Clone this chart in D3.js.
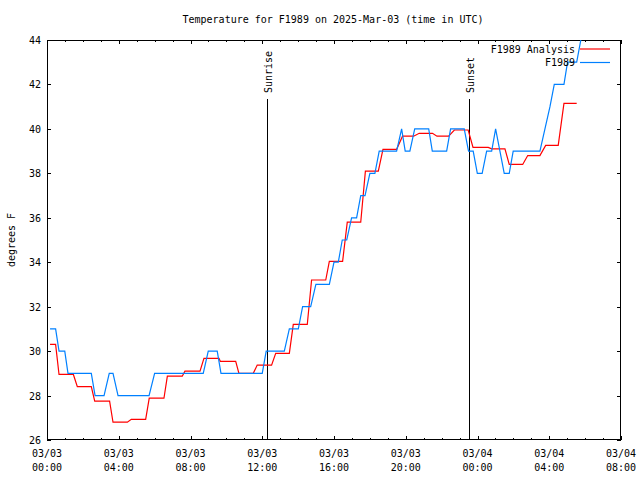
<!DOCTYPE html>
<html>
<head>
<meta charset="utf-8">
<script src="https://cdn.jsdelivr.net/npm/d3@7"></script>
<style>
  body { margin: 0; background: #fff; }
  svg { display: block; }
  text { font-family: "DejaVu Sans Mono", "Liberation Mono", monospace; font-size: 10px; fill: #000; }
</style>
</head>
<body>
<svg id="chart" width="640" height="480"></svg>
<script>
// ---- data (hours after 2025-03-03 00:00 UTC, degrees F) ----
const title = "Temperature for F1989 on 2025-Mar-03 (time in UTC)";
const yLabel = "degrees F";
const seriesNames = ["F1989 Analysis", "F1989"];
const analysisHours = [0.17,0.48,0.67,1.47,1.69,2.47,2.66,3.49,3.68,4.48,4.70,5.50,5.70,6.52,6.71,7.54,7.69,8.53,8.75,9.59,9.66,10.52,10.70,11.50,11.72,12.52,12.75,13.51,13.73,14.51,14.75,15.54,15.74,16.48,16.74,17.49,17.75,18.47,18.73,19.49,19.82,20.44,20.75,21.49,21.74,22.39,22.71,23.48,23.75,24.60,24.79,25.53,25.77,26.52,26.80,27.48,27.80,28.50,28.82,29.53];
const analysisTemps = [30.3,30.3,28.95,28.95,28.4,28.4,27.75,27.75,26.8,26.8,26.93,26.93,27.88,27.88,28.87,28.87,29.1,29.1,29.67,29.67,29.54,29.54,29.0,29.0,29.37,29.37,29.9,29.9,31.2,31.2,33.2,33.2,34.04,34.04,35.8,35.8,38.1,38.1,39.08,39.08,39.67,39.67,39.8,39.8,39.67,39.67,39.95,39.95,39.17,39.17,39.1,39.1,38.4,38.4,38.8,38.8,39.26,39.26,41.15,41.15];
const obsHours = [0.17,0.48,0.67,0.99,1.17,2.47,2.68,3.18,3.47,3.68,3.96,5.69,6.00,8.71,8.99,9.49,9.70,12.00,12.22,13.23,13.51,14.01,14.25,14.70,14.99,15.74,16.00,16.24,16.46,16.71,16.98,17.26,17.49,17.73,18.00,18.28,18.52,19.49,19.77,19.97,20.23,20.50,21.28,21.48,22.28,22.50,23.26,23.50,23.76,23.99,24.26,24.51,24.79,25.01,25.25,25.49,25.77,25.99,27.48,27.76,28.04,28.28,28.82,29.02,29.53,29.99];
const obsTemps = [31,31,30,30,29,29,28,28,29,29,28,28,29,29,30,30,29,29,30,30,31,31,32,32,33,33,34,34,35,35,36,36,37,37,38,38,39,39,40,39,39,40,40,39,39,40,40,39,39,38,38,39,39,40,39,38,38,39,39,40,41,42,42,43,43,45];
const events = ["Sunrise", "Sunset"];
const eventHours = [12.26, 23.52];
const yTicks = [26,28,30,32,34,36,38,40,42,44];

// ---- layout ----
const svg = d3.select("#chart");
const L = 47, R = 621, T = 40, B = 440;
const t0 = Date.UTC(2025, 2, 3, 0, 0);
const toDate = h => new Date(t0 + h * 3600e3);

const x = d3.scaleUtc().domain([toDate(0), toDate(32)]).range([L, R]);
const y = d3.scaleLinear().domain([26, 44]).range([B, T]);

// title
svg.append("text").attr("x", 333).attr("y", 23).attr("text-anchor", "middle").text(title);

// y label
svg.append("text").attr("transform", "translate(15,240) rotate(-90)")
  .attr("text-anchor", "middle").text(yLabel);

// clip
svg.append("clipPath").attr("id", "clip").append("rect")
  .attr("x", L).attr("y", T).attr("width", R - L).attr("height", B - T);

// ticks: x minor hourly, major every 4h
const hourTicks = d3.range(0, 33).map(toDate);
const majorTicks = d3.range(0, 33, 4).map(toDate);
const g = svg.append("g").attr("shape-rendering", "crispEdges");
hourTicks.forEach((d, i) => {
  const len = (i % 4 === 0) ? 4 : 2;
  const xx = Math.round(x(d)) + 0.5;
  g.append("line").attr("x1", xx).attr("x2", xx).attr("y1", B).attr("y2", B - len).attr("stroke", "#000");
  g.append("line").attr("x1", xx).attr("x2", xx).attr("y1", T).attr("y2", T + len).attr("stroke", "#000");
});
const fmtD = d3.utcFormat("%m/%d"), fmtT = d3.utcFormat("%H:%M");
majorTicks.forEach(d => {
  svg.append("text").attr("x", x(d)).attr("y", 457).attr("text-anchor", "middle").text(fmtD(d));
  svg.append("text").attr("x", x(d)).attr("y", 471).attr("text-anchor", "middle").text(fmtT(d));
});
yTicks.forEach(v => {
  const yy = Math.round(y(v)) + 0.5;
  g.append("line").attr("x1", L).attr("x2", L + 4).attr("y1", yy).attr("y2", yy).attr("stroke", "#000");
  g.append("line").attr("x1", R - 4).attr("x2", R).attr("y1", yy).attr("y2", yy).attr("stroke", "#000");
  svg.append("text").attr("x", 41).attr("y", y(v) + 4).attr("text-anchor", "end").text(v);
});

// sunrise/sunset lines
events.forEach((name, i) => {
  const xx = Math.round(x(toDate(eventHours[i]))) + 0.5;
  g.append("line").attr("x1", xx).attr("x2", xx).attr("y1", B).attr("y2", 99).attr("stroke", "#000");
  svg.append("text").attr("transform", `translate(${xx + 4},93) rotate(-90)`)
    .attr("text-anchor", "start").text(name);
});

// series
const line = d3.line().x(d => x(toDate(d[0]))).y(d => y(d[1]));
const analysis = analysisHours.map((h, i) => [h, analysisTemps[i]]);
const obs = obsHours.map((h, i) => [h, obsTemps[i]]);
const colors = ["#ff0000", "#0080ff"];
const plot = svg.append("g").attr("clip-path", "url(#clip)");
[analysis, obs].forEach((data, i) => {
  plot.append("path").datum(data).attr("d", line)
    .attr("fill", "none").attr("stroke", colors[i]).attr("stroke-width", 1.2);
});

// legend
seriesNames.forEach((name, i) => {
  const ly = 49 + i * 13.5;
  svg.append("text").attr("x", 575).attr("y", ly + 3.5).attr("text-anchor", "end").text(name);
  svg.append("line").attr("x1", 580).attr("x2", 610).attr("y1", ly).attr("y2", ly)
    .attr("stroke", colors[i]).attr("stroke-width", 1.2);
});

// frame
g.append("rect").attr("x", L + 0.5).attr("y", T + 0.5).attr("width", R - L - 1).attr("height", B - T - 1)
  .attr("fill", "none").attr("stroke", "#000");
</script>
</body>
</html>
